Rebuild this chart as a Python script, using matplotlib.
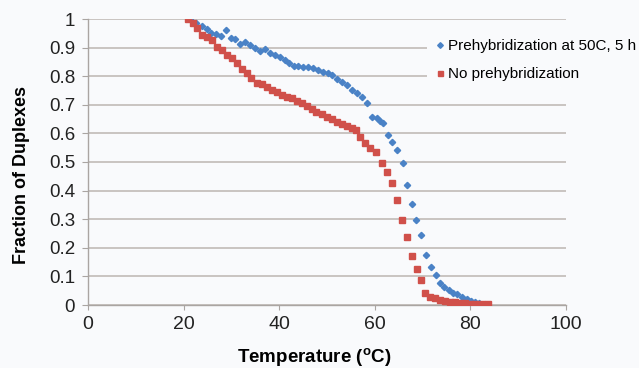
import matplotlib
matplotlib.use("Agg")
import matplotlib.pyplot as plt

# melting curves: temperature (C) and fraction of duplexes
prehyb_temp = [21.3, 22.5, 23.8, 24.8, 25.7, 26.7, 27.8, 28.8, 29.9, 30.8, 31.8, 32.8,
               33.9, 34.9, 36.0, 37.0, 38.1, 39.1, 40.2, 41.2, 42.1, 43.0, 44.0, 45.0,
               46.1, 47.1, 48.2, 49.2, 50.3, 51.0, 52.0, 53.1, 54.1, 55.2, 56.2, 57.3,
               58.3, 59.4, 60.4, 61.1, 61.8, 62.7, 63.7, 64.7, 65.8, 66.7, 67.7, 68.7,
               69.7, 70.7, 71.8, 72.7, 73.6, 74.5, 75.5, 76.4, 77.3, 78.3, 79.2, 80.1,
               81.0, 81.7]
prehyb_frac = [1.0, 0.987, 0.976, 0.964, 0.95, 0.948, 0.94, 0.96, 0.933, 0.929, 0.913, 0.92,
               0.91, 0.90, 0.888, 0.894, 0.88, 0.874, 0.866, 0.857, 0.846, 0.836, 0.836, 0.833,
               0.831, 0.828, 0.822, 0.816, 0.81, 0.804, 0.789, 0.781, 0.769, 0.752, 0.742, 0.728,
               0.708, 0.658, 0.653, 0.645, 0.637, 0.596, 0.569, 0.542, 0.495, 0.418, 0.352, 0.298,
               0.245, 0.175, 0.134, 0.105, 0.076, 0.064, 0.052, 0.043, 0.037, 0.027, 0.02, 0.014,
               0.012, 0.006]

noprehyb_temp = [21.0, 22.0, 22.9, 23.8, 24.8, 25.9, 26.9, 28.0, 29.0, 30.1, 31.1, 32.2,
                 33.2, 34.2, 35.3, 36.3, 37.4, 38.4, 39.5, 40.5, 41.6, 42.6, 43.7, 44.7,
                 45.8, 46.8, 47.8, 48.9, 49.9, 51.0, 52.0, 53.1, 54.1, 55.2, 56.1, 56.9,
                 57.9, 59.0, 60.3, 61.5, 62.6, 63.7, 64.7, 65.7, 66.7, 67.7, 68.8, 69.7,
                 70.6, 71.5, 72.6, 73.6, 74.7, 75.7, 76.8, 77.8, 78.9, 79.9, 81.0, 82.4,
                 83.7]
noprehyb_frac = [1.0, 0.987, 0.967, 0.944, 0.938, 0.927, 0.903, 0.892, 0.874, 0.863, 0.845, 0.824,
                 0.81, 0.793, 0.775, 0.773, 0.763, 0.752, 0.746, 0.734, 0.728, 0.723, 0.714, 0.705,
                 0.696, 0.684, 0.676, 0.668, 0.658, 0.649, 0.641, 0.633, 0.626, 0.618, 0.612, 0.586,
                 0.568, 0.548, 0.536, 0.495, 0.466, 0.425, 0.366, 0.297, 0.237, 0.173, 0.126, 0.088,
                 0.042, 0.029, 0.023, 0.017, 0.014, 0.012, 0.009, 0.008, 0.006, 0.005, 0.005, 0.005,
                 0.005]

x_ticks = [0, 20, 40, 60, 80, 100]
y_ticks = [0, 0.1, 0.2, 0.3, 0.4, 0.5, 0.6, 0.7, 0.8, 0.9, 1]
y_labels = ["0", "0.1", "0.2", "0.3", "0.4", "0.5", "0.6", "0.7", "0.8", "0.9", "1"]

plt.rcParams['font.family'] = ['Liberation Sans', 'DejaVu Sans']
plt.rcParams['mathtext.fontset'] = 'custom'
plt.rcParams['mathtext.rm'] = 'Liberation Sans:bold'
plt.rcParams['mathtext.it'] = 'Liberation Sans:bold'

bg = '#f9fafc'
grid_col = '#bcb5b1'
spine_col = '#aaa5a2'

fig = plt.figure(figsize=(6.39, 3.68), dpi=100, facecolor=bg)
ax = fig.add_axes([88 / 639, 1 - 305 / 368, (566 - 88) / 639, (305 - 19) / 368])
ax.set_facecolor(bg)

ax.plot(prehyb_temp, prehyb_frac, linestyle='none', marker='D', markersize=3.2,
        color='#4a82c6', label='Prehybridization at 50C, 5 h', zorder=3)
ax.plot(noprehyb_temp, noprehyb_frac, linestyle='none', marker='s', markersize=4.0,
        color='#d0504a', label='No prehybridization', zorder=3)

ax.set_xlim(0, 100)
ax.set_ylim(0, 1)
ax.set_xticks(x_ticks)
ax.set_yticks(y_ticks)
ax.set_yticklabels(y_labels)
ax.yaxis.grid(True, color=grid_col, linewidth=1.1)
ax.set_axisbelow(True)
for s in ['top', 'right']:
    ax.spines[s].set_visible(False)
for s in ['left', 'bottom']:
    ax.spines[s].set_color(spine_col)
    ax.spines[s].set_linewidth(1.0)
ax.tick_params(axis='y', direction='out', length=4.3, color=spine_col, labelsize=13.5,
               labelcolor='#222222', pad=5)
ax.tick_params(axis='x', direction='out', length=3.6, color=spine_col, labelsize=14,
               labelcolor='#222222', pad=4)

ax.set_xlabel(r'Temperature ($^{o}$C)', fontsize=13.5, fontweight='bold', va='center')
ax.set_ylabel('Fraction of Duplexes', fontsize=13, fontweight='bold', va='center')
ax.xaxis.set_label_coords((314 - 88) / 478, (305 - 357) / 286)
ax.yaxis.set_label_coords((22 - 88) / 478, (305 - 175) / 286)

leg = ax.legend(loc='upper left', bbox_to_anchor=(427 / 639, 1 - 30 / 368),
                bbox_transform=fig.transFigure, frameon=True, fontsize=11,
                handlelength=0.55, handletextpad=0.25, borderpad=0.6, labelspacing=0.9,
                borderaxespad=0, markerscale=0.9)
leg.get_frame().set_facecolor(bg)
leg.get_frame().set_edgecolor('none')
leg.get_frame().set_alpha(1)

fig.savefig('out.png', dpi=100, facecolor=bg)
